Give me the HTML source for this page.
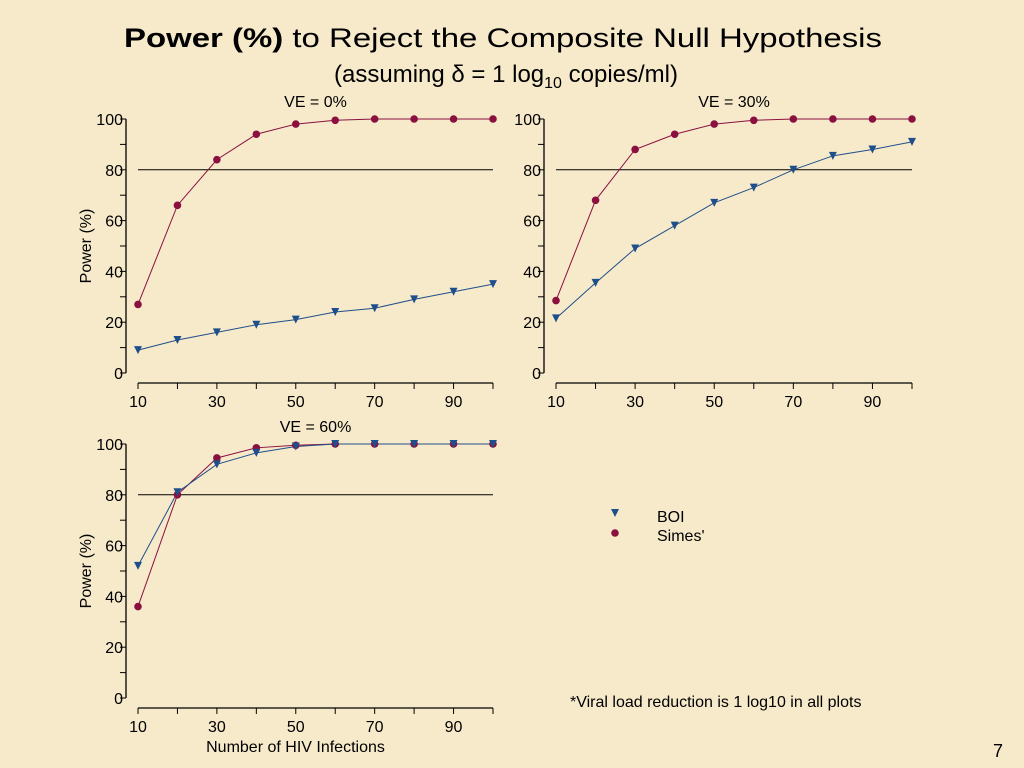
<!DOCTYPE html>
<html><head><meta charset="utf-8"><style>
html,body{margin:0;padding:0;background:#f7eacb;}
svg{display:block;font-family:"Liberation Sans",sans-serif;}
</style></head><body>
<svg id="c" width="1024" height="768" viewBox="0 0 1024 768">
<rect width="1024" height="768" fill="#f7eacb"/>
<text x="503" y="47" text-anchor="middle" font-size="27" textLength="758" lengthAdjust="spacingAndGlyphs"><tspan font-weight="bold">Power (%)</tspan> to Reject the Composite Null Hypothesis</text>
<text x="506" y="82" text-anchor="middle" font-size="24">(assuming δ = 1 log<tspan font-size="16" dy="6">10</tspan><tspan dy="-6"> copies/ml)</tspan></text>
<g id="plots"></g>
<text x="657" y="522" font-size="16">BOI</text>
<text x="657" y="541" font-size="16">Simes'</text>
<text x="570" y="707" font-size="16">*Viral load reduction is 1 log10 in all plots</text>
<text x="993" y="757" font-size="18">7</text>
</svg>
<script>
const xCats=[10,20,30,40,50,60,70,80,90,100];
const xTickLabels=[10,30,50,70,90];
const yTickLabels=[0,20,40,60,80,100];
const boi0=[9,13,16,19,21,24,25.5,29,32,35];
const simes0=[27,66,84,94,98,99.5,100,100,100,100];
const boi30=[21.5,35.5,49,58,67,73,80,85.5,88,91];
const simes30=[28.5,68,88,94,98,99.5,100,100,100,100];
const boi60=[52,81,92,96.5,99,100,100,100,100,100];
const simes60=[36,80,94.5,98.5,99.5,100,100,100,100,100];
const refLine=80;
const NS="http://www.w3.org/2000/svg";
const root=document.getElementById('plots');
function mk(tag,attrs,parent){const e=document.createElementNS(NS,tag);for(const k in attrs)e.setAttribute(k,attrs[k]);(parent||root).appendChild(e);return e;}
const panels=[
 {title:'VE = 0%',ax:126,x0:138,x1:493,y100:119,y0:373,boi:boi0,simes:simes0,ylab:true,xlab:false,name:'ve-0'},
 {title:'VE = 30%',ax:544,x0:556,x1:912,y100:119,y0:373,boi:boi30,simes:simes30,ylab:false,xlab:false,name:'ve-30'},
 {title:'VE = 60%',ax:126,x0:138,x1:493,y100:444,y0:698,boi:boi60,simes:simes60,ylab:true,xlab:true,name:'ve-60'}
];
function tri(g,x,y,name){const p=mk('polygon',{points:`${x-4},${y-4} ${x+4},${y-4} ${x},${y+4}`,fill:'#1f4f8a'},g);

}
function dot(g,x,y,name){const c=mk('circle',{cx:x,cy:y,r:3.8,fill:'#8a1040'},g);

}
panels.forEach(p=>{
 const g=mk('g',{});
 
 
 const sx=v=>p.x0+(v-10)/90*(p.x1-p.x0);
 const sy=v=>p.y0+(v/100)*(p.y100-p.y0);
 const t=mk('text',{x:(p.x0+p.x1)/2,y:p.y100-12,'text-anchor':'middle','font-size':16},g);t.textContent=p.title;
 
 
 const ya=mk('line',{x1:p.ax,x2:p.ax,y1:p.y100,y2:p.y0,stroke:'#000','stroke-width':1.3},g);
 
 
 for(let v=0;v<=100;v+=10){mk('line',{x1:p.ax-6,x2:p.ax,y1:sy(v),y2:sy(v),stroke:'#000','stroke-width':1},g);}
 yTickLabels.forEach(v=>{const tt=mk('text',{x:p.ax-3,y:sy(v)+6,'text-anchor':'end','font-size':16},g);tt.textContent=v;
  
  });
 const xAxY=p.y0+10;
 const xa=mk('line',{x1:p.x0,x2:p.x1,y1:xAxY,y2:xAxY,stroke:'#000','stroke-width':1.3},g);
 
 
 xCats.forEach(v=>mk('line',{x1:sx(v),x2:sx(v),y1:xAxY,y2:xAxY+6,stroke:'#000','stroke-width':1},g));
 xTickLabels.forEach(v=>{const tt=mk('text',{x:sx(v),y:xAxY+24,'text-anchor':'middle','font-size':16},g);tt.textContent=v;
  
  });
 if(p.ylab){const yl=mk('text',{x:0,y:0,'text-anchor':'middle','font-size':16,transform:`translate(${p.ax-35},${(p.y0+p.y100)/2}) rotate(-90)`},g);yl.textContent='Power (%)';
  
  }
 if(p.xlab){const xl=mk('text',{x:(p.x0+p.x1)/2-20,y:xAxY+44,'text-anchor':'middle','font-size':16},g);xl.textContent='Number of HIV Infections';
  
  }
 const rl=mk('line',{x1:p.x0,x2:p.x1,y1:sy(refLine),y2:sy(refLine),stroke:'#000','stroke-width':1},g);
 
 
 const sl=mk('polyline',{points:p.simes.map((v,i)=>sx(xCats[i])+','+sy(v)).join(' '),fill:'none',stroke:'#8a1040','stroke-width':1},g);
 
 
 const bl=mk('polyline',{points:p.boi.map((v,i)=>sx(xCats[i])+','+sy(v)).join(' '),fill:'none',stroke:'#1f4f8a','stroke-width':1},g);
 
 
 p.simes.forEach((v,i)=>dot(g,sx(xCats[i]),sy(v),'simes-point'));
 p.boi.forEach((v,i)=>tri(g,sx(xCats[i]),sy(v),'boi-point'));
});
const lg=mk('g',{});


tri(lg,615,513,'legend-boi-marker');
dot(lg,615,533,'legend-simes-marker');
</script>
</body></html>
